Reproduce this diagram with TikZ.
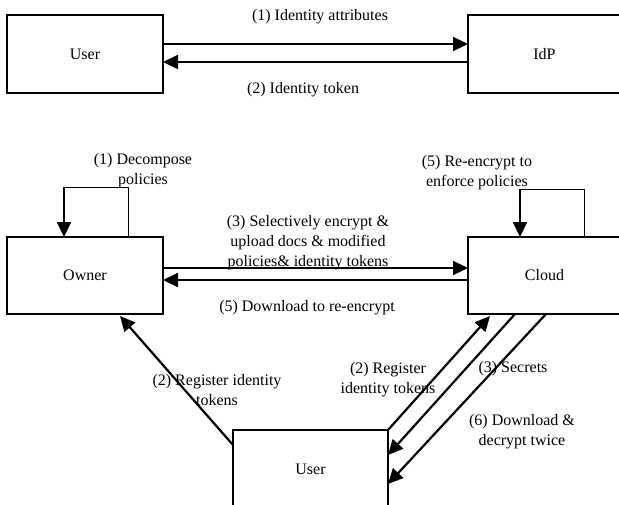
\documentclass[tikz,border=0pt]{standalone}
\usepackage{fontspec}
\setmainfont{Liberation Serif}
\usetikzlibrary{arrows.meta}
\begin{document}
\begin{tikzpicture}[x=1pt,y=-1pt,
  box/.style={draw,line width=1.6pt,inner sep=0pt,outer sep=0pt,font=\fontsize{16}{20}\selectfont},
  lbl/.style={inner sep=0pt,align=center,font=\fontsize{16}{20}\selectfont},
  arr/.style={line width=2.2pt,-{Triangle[length=15pt,width=14pt]}},
  thinl/.style={line width=1pt}]
\useasboundingbox (0,0) rectangle (619,504);
% boxes
\node[box,minimum width=156pt,minimum height=78pt] (u1) at (85,54) {User};
\node[box,minimum width=153pt,minimum height=78pt] (idp) at (544.5,54) {IdP};
\node[box,minimum width=156pt,minimum height=77pt] (owner) at (85,275.5) {Owner};
\node[box,minimum width=153pt,minimum height=77pt] (cloud) at (544.5,275.5) {Cloud};
\node[box,minimum width=155pt,minimum height=78pt] (ub) at (310.5,469) {User};
% top arrows
\draw[arr] (u1.east |- 0,44) -- (idp.west |- 0,44);
\draw[arr] (idp.west |- 0,62) -- (u1.east |- 0,62);
\node[lbl] (l1) at (320,17) {(1) Identity attributes};
\node[lbl] (l2) at (303,90) {(2) Identity token};
% owner-cloud arrows
\draw[arr] (owner.east |- 0,268) -- (cloud.west |- 0,268);
\draw[arr] (cloud.west |- 0,280) -- (owner.east |- 0,280);
\node[lbl] (l3) at (308,243) {(3) Selectively encrypt \&\\upload docs \& modified\\policies\& identity tokens};
\node[lbl] (l5) at (307,308) {(5) Download to re-encrypt};
% owner loop
\coordinate (oa) at ([xshift=121pt]owner.north west);
\coordinate (ob) at ([xshift=57pt]owner.north west);
\draw[thinl] (oa) -- ([yshift=50pt]oa) -- ([yshift=50pt]ob);
\draw[arr] ([yshift=50pt]ob) -- (ob);
\node[lbl] (ld) at (143,170.5) {(1) Decompose\\policies};
% cloud loop
\coordinate (ca) at ([xshift=116pt]cloud.north west);
\coordinate (cb) at ([xshift=52pt]cloud.north west);
\draw[thinl] (ca) -- ([yshift=48pt]ca) -- ([yshift=48pt]cb);
\draw[arr] ([yshift=48pt]cb) -- (cb);
\node[lbl] (lr) at (477,172.5) {(5) Re-encrypt to\\enforce policies};
% bottom arrows
\draw[arr] ([yshift=-15pt]ub.north west) -- ([xshift=113pt,yshift=-2pt]owner.south west);
\node[lbl] (lrl) at (217,390.5) {(2) Register identity\\tokens};
\draw[arr] (ub.north east) -- ([xshift=22pt,yshift=-2pt]cloud.south west);
\draw[arr] ([xshift=47pt]cloud.south west) -- ([yshift=-25pt]ub.north east);
\draw[arr] ([xshift=78pt]cloud.south west) -- ([yshift=-54pt]ub.north east);
\node[lbl] (lrr) at (388,379.5) {(2) Register\\identity tokens};
\node[lbl] (ls) at (513,369) {(3) Secrets};
\node[lbl] (ldd) at (522,432) {(6) Download \&\\decrypt twice};
\end{tikzpicture}
\end{document}
